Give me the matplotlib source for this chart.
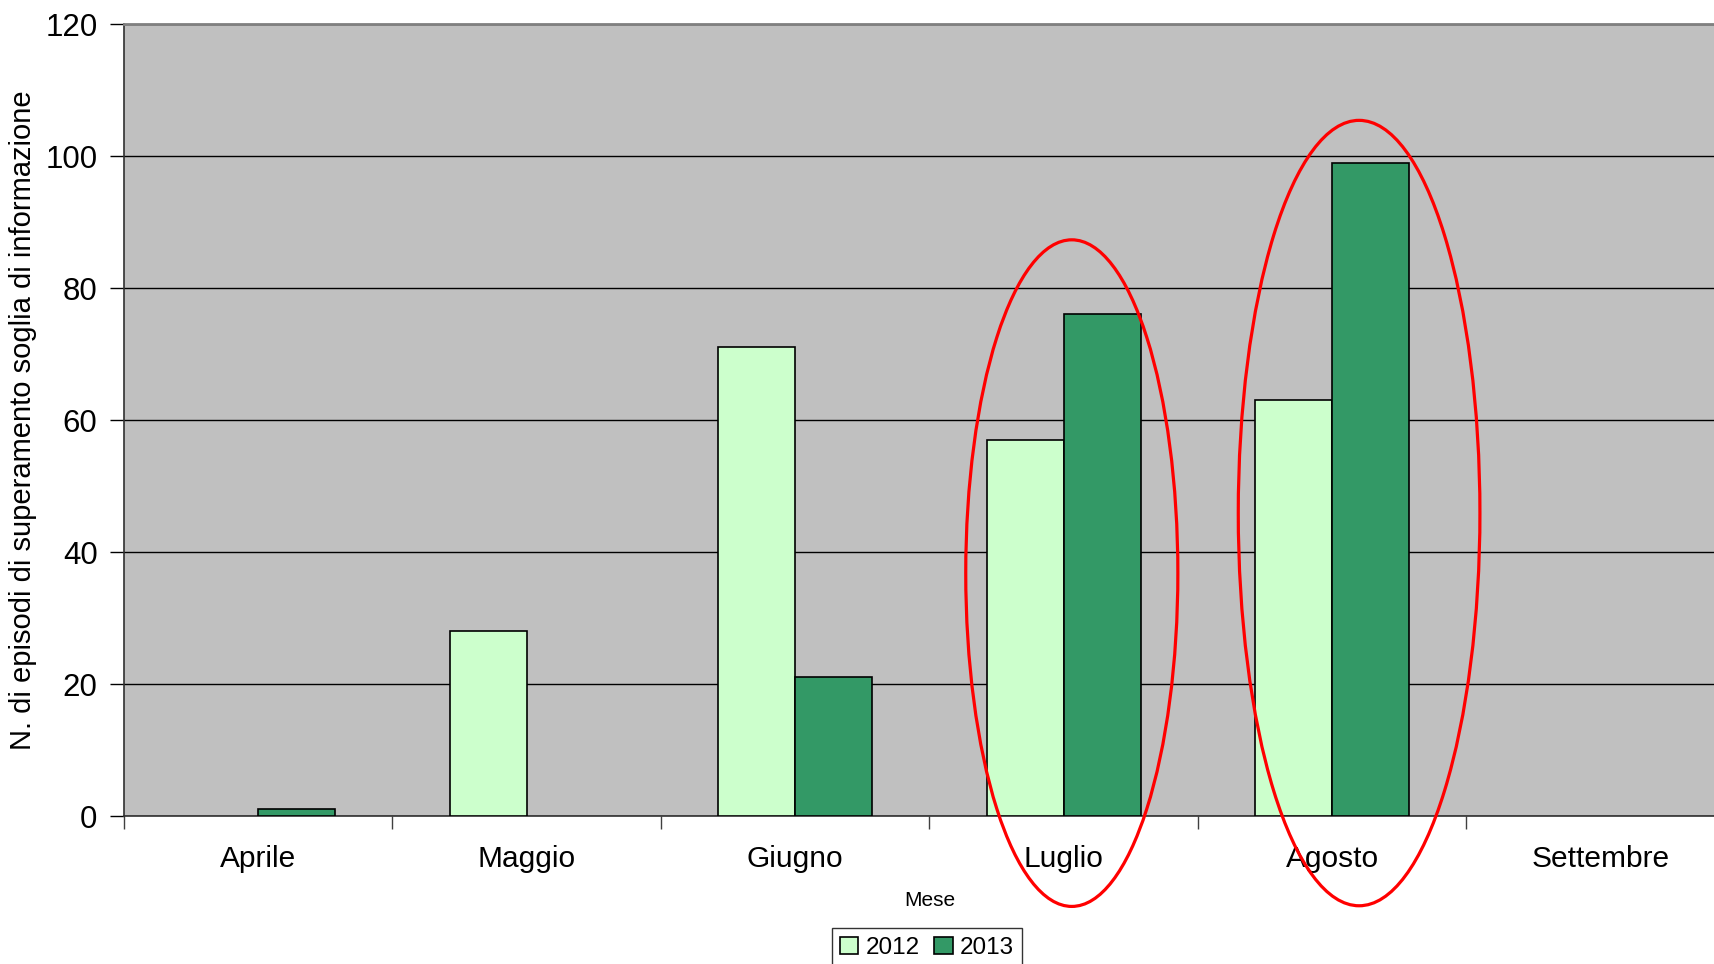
import matplotlib.pyplot as plt
import numpy as np
from matplotlib.patches import Ellipse, Patch

plt.rcParams['font.family'] = ['Liberation Sans', 'DejaVu Sans']

MESI = ['Aprile', 'Maggio', 'Giugno', 'Luglio', 'Agosto', 'Settembre']
VAL_2012 = [0, 28, 71, 57, 63, 0]
VAL_2013 = [1, 0, 21, 76, 99, 0]
ANNI = ['2012', '2013']
COLORI = ['#CCFFCC', '#339966']

# ellipses around Luglio and Agosto: (centre x, centre y, width, height) in data units
CERCHI = [(3.03, 36.8, 0.79, 101), (4.10, 45.9, 0.90, 119)]

f = plt.figure(figsize=(17.15, 9.64), dpi=100)
ax = f.add_axes([124 / 1715, 1 - 816 / 964, 1611 / 1715, 792 / 964])
ax.set_facecolor('#C0C0C0')

x = np.arange(len(MESI))
w = 0.287
for vals, off, col in [(VAL_2012, -w / 2, COLORI[0]), (VAL_2013, w / 2, COLORI[1])]:
    lw = [1.2 if v > 0 else 0 for v in vals]
    ax.bar(x + off, vals, w, color=col, edgecolor='black', linewidth=lw, zorder=3)

ax.set_xlim(-0.5, len(MESI) - 0.5)
ax.set_ylim(0, 120)
ax.set_yticks(range(0, 121, 20))
ax.yaxis.grid(True, color='black', linewidth=1)
ax.set_axisbelow(True)

ax.set_xticks(np.arange(-0.5, len(MESI), 1))
ax.set_xticklabels([])
ax.set_xticks(x, minor=True)
ax.set_xticklabels(MESI, minor=True)
ax.tick_params(axis='x', which='major', length=9, width=1, color='#404040')
ax.tick_params(axis='x', which='minor', length=0, pad=21, labelsize=21.5)
ax.tick_params(axis='y', length=10, width=1, pad=9, labelsize=22.5)

for s in ['left', 'bottom']:
    ax.spines[s].set_color('#303030')
    ax.spines[s].set_linewidth(1.2)
ax.spines['top'].set_color('#808080')
ax.spines['top'].set_linewidth(2)
ax.spines['right'].set_visible(False)

ax.set_ylabel('N. di episodi di superamento soglia di informazione', fontsize=21, labelpad=6)
ax.set_xlabel('Mese', fontsize=15, labelpad=13)

for cx, cy, ew, eh in CERCHI:
    ax.add_patch(Ellipse((cx, cy), ew, eh, fill=False, edgecolor='red', linewidth=2.3,
                         clip_on=False, zorder=5))

handles = [Patch(facecolor=c, edgecolor='black', linewidth=1.2, label=a) for c, a in zip(COLORI, ANNI)]
leg = ax.legend(handles=handles, loc='upper center', bbox_to_anchor=(927 / 1715, 1 - 928 / 964),
                bbox_transform=f.transFigure, ncol=2, fontsize=17.5, frameon=True,
                fancybox=False, edgecolor='black', handlelength=0.75, handleheight=0.75,
                handletextpad=0.3, columnspacing=0.6, borderpad=0.35, borderaxespad=0)
leg.get_frame().set_linewidth(1)

plt.savefig('out.png', dpi=100)
